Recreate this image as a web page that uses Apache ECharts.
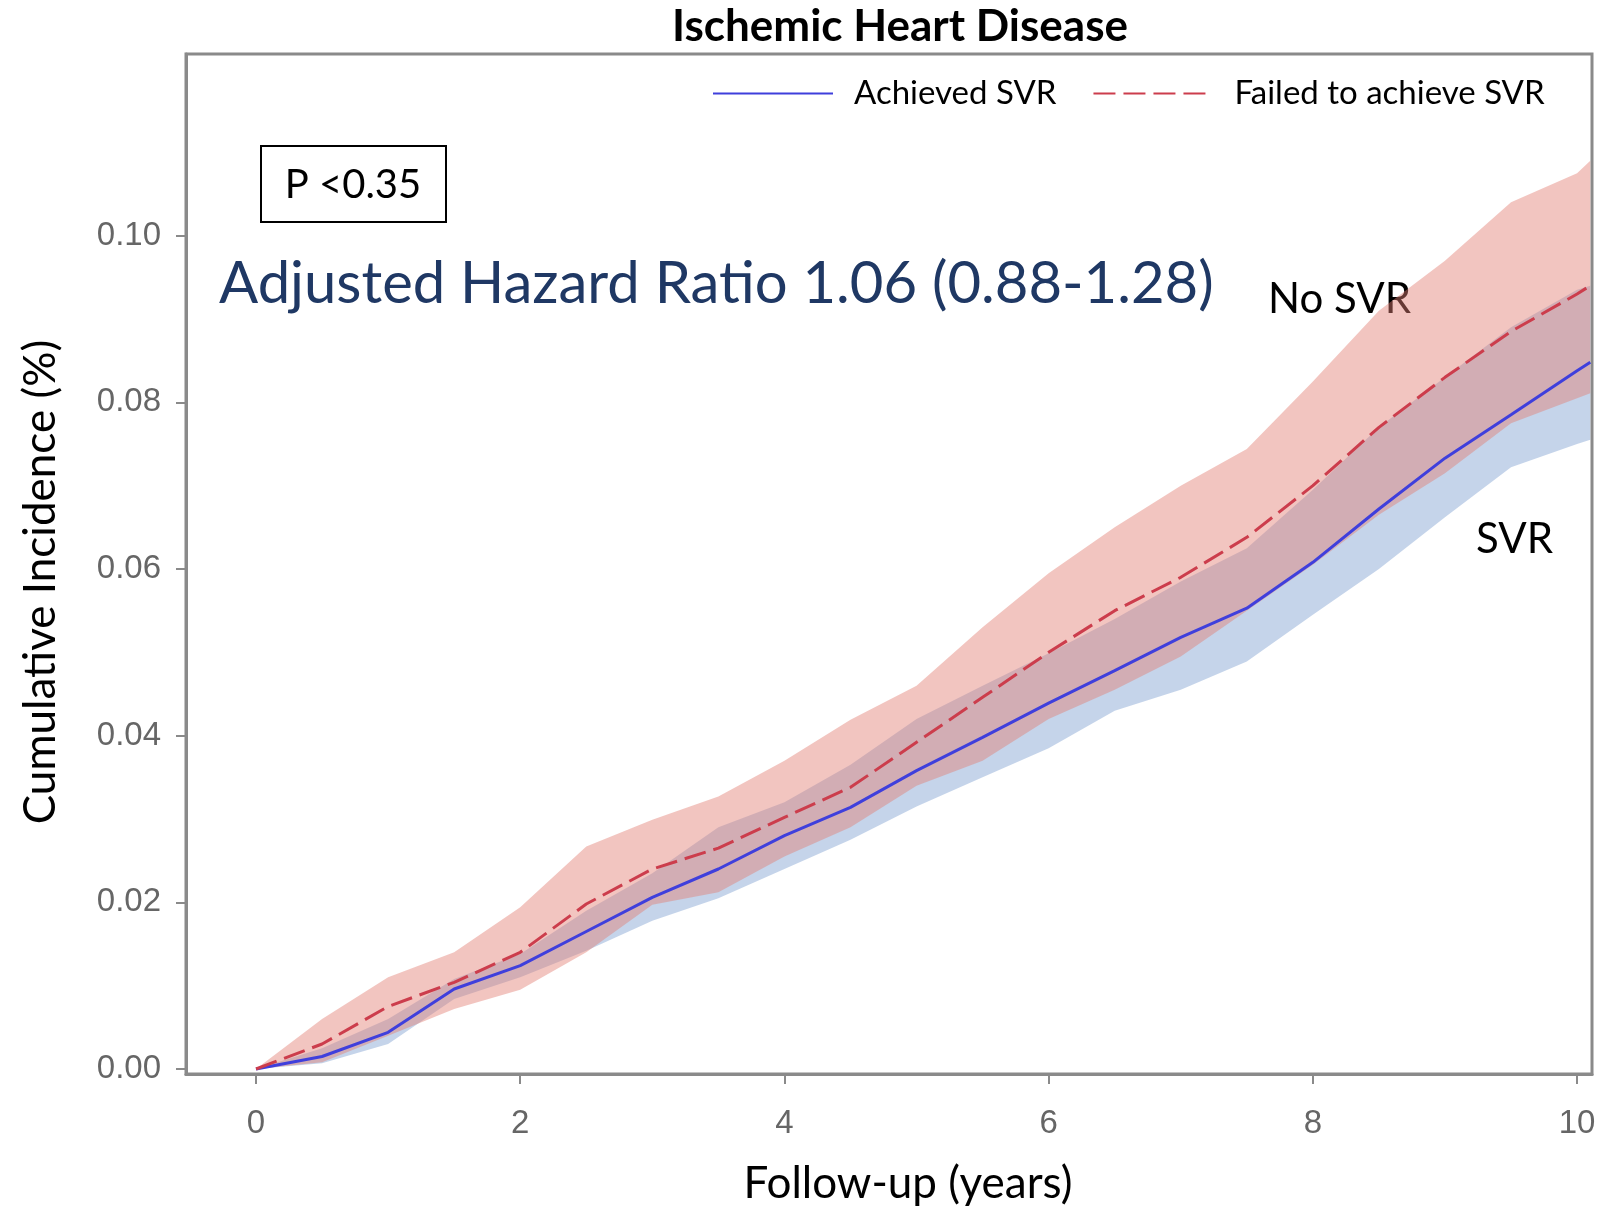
<!DOCTYPE html>
<html>
<head>
<meta charset="utf-8">
<title>Ischemic Heart Disease</title>
<script src="https://cdn.jsdelivr.net/npm/echarts@6/dist/echarts.min.js"></script>
<style>
  html, body { margin: 0; padding: 0; background: #fff; }
  #chart { width: 1600px; height: 1224px; }
</style>
</head>
<body>
<div id="chart"></div>
<script>
// follow-up time (years)
const years = [0, 0.5, 1, 1.5, 2, 2.5, 3, 3.5, 4, 4.5, 5, 5.5, 6, 6.5, 7, 7.5, 8, 8.5, 9, 9.5, 10, 10.1];

// Achieved SVR: estimate and 95% band
const svrLine = [0, 0.0015, 0.0044, 0.0096, 0.0124, 0.0165, 0.0206, 0.0240, 0.0280, 0.0314, 0.0358, 0.0398, 0.0439, 0.0478, 0.0518, 0.0553, 0.0608, 0.0672, 0.0733, 0.0785, 0.0838, 0.0848];
const svrLower = [0, 0.0007, 0.0030, 0.0084, 0.0110, 0.0142, 0.0178, 0.0205, 0.0240, 0.0275, 0.0315, 0.0350, 0.0385, 0.0430, 0.0455, 0.0489, 0.0545, 0.0600, 0.0662, 0.0722, 0.0750, 0.0755];
const svrUpper = [0, 0.0025, 0.0060, 0.0108, 0.0138, 0.0190, 0.0235, 0.0290, 0.0320, 0.0365, 0.0420, 0.0460, 0.0499, 0.0540, 0.0585, 0.0625, 0.0695, 0.0770, 0.0830, 0.0890, 0.0935, 0.0940];

// Failed to achieve SVR: estimate and 95% band
const noSvrLine = [0, 0.0030, 0.0075, 0.0104, 0.0140, 0.0198, 0.0240, 0.0265, 0.0302, 0.0338, 0.0392, 0.0446, 0.0500, 0.0550, 0.0590, 0.0638, 0.0700, 0.0770, 0.0830, 0.0885, 0.0930, 0.0940];
const noSvrLower = [0, 0.0008, 0.0040, 0.0072, 0.0095, 0.0140, 0.0197, 0.0212, 0.0255, 0.0290, 0.0340, 0.0370, 0.0420, 0.0455, 0.0495, 0.0550, 0.0605, 0.0665, 0.0715, 0.0775, 0.0805, 0.0811];
const noSvrUpper = [0, 0.0060, 0.0110, 0.0140, 0.0194, 0.0267, 0.0299, 0.0327, 0.0370, 0.0419, 0.0460, 0.0530, 0.0595, 0.0650, 0.0700, 0.0744, 0.0825, 0.0910, 0.0970, 0.1040, 0.1075, 0.1090];

const xTicks = [0, 2, 4, 6, 8, 10];
const yTicks = [0, 0.02, 0.04, 0.06, 0.08, 0.10];

const font = 'Lato, "Open Sans", sans-serif';
const tickFont = '"Liberation Sans", Arial, sans-serif';
const axisGrey = '#8a8a8a';

const pairs = (vals) => years.map((t, i) => [t, vals[i]]);

// confidence band drawn as one polygon through the axis scales
function band(name, lower, upper, color) {
  return {
    name,
    type: 'custom',
    silent: true,
    z: 1,
    data: years.map((t, i) => [t, lower[i], upper[i]]),
    encode: { x: 0, y: [1, 2] },
    renderItem: (params, api) => {
      if (params.dataIndex !== 0) {
        return null;
      }
      const top = years.map((t, i) => api.coord([t, upper[i]]));
      const bottom = years.map((t, i) => api.coord([t, lower[i]])).reverse();
      return {
        type: 'polygon',
        shape: { points: top.concat(bottom) },
        style: { fill: color },
      };
    },
  };
}

const chart = echarts.init(document.getElementById('chart'));

chart.setOption({
  animation: false,
  backgroundColor: '#fff',
  grid: {
    left: 186,
    right: 8,
    top: 54,
    bottom: 150,
    show: true,
    borderColor: axisGrey,
    borderWidth: 3,
  },
  legend: {
    data: ['Achieved SVR', 'Failed to achieve SVR'],
    left: 707,
    top: 72,
    itemWidth: 120,
    itemHeight: 14,
    itemGap: 36,
    itemStyle: { opacity: 0 },
    textStyle: { fontFamily: font, fontSize: 33, color: '#000', padding: [0, 0, 0, 16] },
  },
  xAxis: {
    type: 'value',
    min: -0.53,
    max: 10.113,
    name: 'Follow-up (years)',
    nameLocation: 'middle',
    nameGap: 88,
    nameTextStyle: { fontFamily: font, fontSize: 44, color: '#000', padding: [0, 0, 0, 38] },
    axisLine: { show: true, onZero: false, lineStyle: { color: axisGrey, width: 3 } },
    axisTick: { show: true, customValues: xTicks, length: 10, lineStyle: { color: axisGrey, width: 2 } },
    axisLabel: {
      customValues: xTicks,
      margin: 33,
      fontFamily: tickFont,
      fontSize: 33,
      color: '#666',
      formatter: (v) => String(v),
    },
    splitLine: { show: false },
  },
  yAxis: {
    type: 'value',
    min: -0.0006,
    max: 0.1218,
    name: 'Cumulative Incidence (%)',
    nameLocation: 'middle',
    nameRotate: 90,
    nameGap: 123,
    nameTextStyle: { fontFamily: font, fontSize: 44, color: '#000', padding: [0, 36, 0, 0] },
    axisLine: { show: true, onZero: false, lineStyle: { color: axisGrey, width: 3 } },
    axisTick: { show: true, customValues: yTicks, length: 10, lineStyle: { color: axisGrey, width: 2 } },
    axisLabel: {
      customValues: yTicks,
      margin: 25,
      fontFamily: tickFont,
      fontSize: 33,
      color: '#666',
      formatter: (v) => v.toFixed(2),
    },
    splitLine: { show: false },
  },
  graphic: [
    {
      type: 'text',
      style: {
        text: 'Ischemic Heart Disease',
        x: 900, y: 27,
        align: 'center', verticalAlign: 'middle',
        fontFamily: font, fontSize: 44, fontWeight: 'bold', fill: '#000',
      },
    },
    {
      type: 'rect',
      shape: { x: 261, y: 146, width: 185, height: 76 },
      style: { fill: 'none', stroke: '#000', lineWidth: 2 },
    },
    {
      type: 'text',
      style: {
        text: 'P <0.35',
        x: 353, y: 185,
        align: 'center', verticalAlign: 'middle',
        fontFamily: font, fontSize: 40, fill: '#000',
      },
    },
    {
      type: 'text',
      style: {
        text: 'Adjusted Hazard Ratio 1.06 (0.88-1.28)',
        x: 219, y: 284,
        align: 'left', verticalAlign: 'middle',
        fontFamily: font, fontSize: 58, fill: '#1f3864',
      },
    },
    {
      type: 'text',
      style: {
        text: 'No SVR',
        x: 1268, y: 299,
        align: 'left', verticalAlign: 'middle',
        fontFamily: font, fontSize: 42, fill: '#000',
      },
    },
    {
      type: 'text',
      style: {
        text: 'SVR',
        x: 1476, y: 539,
        align: 'left', verticalAlign: 'middle',
        fontFamily: font, fontSize: 42, fill: '#000',
      },
    },
  ],
  series: [
    band('svrBand', svrLower, svrUpper, 'rgba(127,160,209,0.45)'),
    band('noSvrBand', noSvrLower, noSvrUpper, 'rgba(227,127,115,0.45)'),
    {
      name: 'Achieved SVR',
      type: 'line',
      data: pairs(svrLine),
      symbol: 'none',
      itemStyle: { color: '#3f3fdc' },
      lineStyle: { color: '#3f3fdc', width: 3 },
      z: 5,
    },
    {
      name: 'Failed to achieve SVR',
      type: 'line',
      data: pairs(noSvrLine),
      symbol: 'none',
      itemStyle: { color: '#cc3d4c' },
      lineStyle: { color: '#cc3d4c', width: 3, type: [22, 8] },
      z: 6,
    },
  ],
});

window.addEventListener('resize', () => chart.resize());
</script>
</body>
</html>
